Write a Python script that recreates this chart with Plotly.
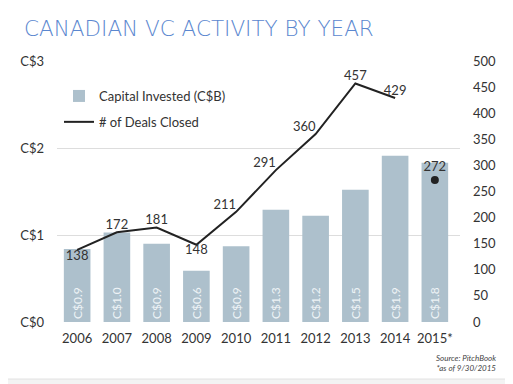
import plotly.graph_objects as go

years = ["2006", "2007", "2008", "2009", "2010", "2011", "2012", "2013", "2014", "2015*"]
capital = [0.84, 1.03, 0.90, 0.59, 0.87, 1.29, 1.22, 1.52, 1.91, 1.83]
capital_labels = ["C$0.9", "C$1.0", "C$0.9", "C$0.6", "C$0.9", "C$1.3", "C$1.2", "C$1.5", "C$1.9", "C$1.8"]
deals_years = ["2006", "2007", "2008", "2009", "2010", "2011", "2012", "2013", "2014"]
deals = [138, 172, 181, 148, 211, 291, 360, 457, 429]
deals_pos = ["bottom center", "top center", "top center", "bottom center", "top left",
             "top left", "top left", "top center", "top center"]
partial_year = ["2015*"]
partial_deals = [272]
left_ticks = [0, 1, 2, 3]
left_ticktext = ["C$0", "C$1", "C$2", "C$3"]
right_ticks = [0, 50, 100, 150, 200, 250, 300, 350, 400, 450, 500]

FONT = "Lato"
TXT = "#333333"

fig = go.Figure()
fig.add_trace(go.Bar(
    x=years, y=capital, name="Capital Invested (C$B)", legendgroup="a",
    marker=dict(color="#adc0cc", line=dict(width=0)),
    text=capital_labels, textposition="inside", insidetextanchor="start",
    textangle=-90, textfont=dict(color="#eef3f6", size=12, family=FONT),
    cliponaxis=False, yaxis="y",
))
fig.add_trace(go.Scatter(
    x=deals_years, y=deals, name="# of Deals Closed", mode="lines+text", legendgroup="b",
    line=dict(color="#222222", width=2),
    text=[str(v) for v in deals], textposition=deals_pos,
    textfont=dict(color=TXT, size=13, family=FONT),
    yaxis="y2", cliponaxis=False,
))
fig.add_trace(go.Scatter(
    x=partial_year, y=partial_deals, mode="markers+text", showlegend=False,
    marker=dict(color="#222222", size=8),
    text=[str(v) for v in partial_deals], textposition="top center",
    textfont=dict(color=TXT, size=13, family=FONT),
    yaxis="y2", cliponaxis=False,
))

# page body has an 8px margin: work in reference coordinates, shift by 8
OFF = 8
W, H = 513 - OFF, 384 - OFF
PL, PR, PT, PB = 55, 460, 61, 322          # plot box in reference coordinates
L, R, T, B = PL - OFF, W - (PR - OFF), PT - OFF, H - (PB - OFF)
pw, ph = PR - PL, PB - PT

def px(x):
    return (x - PL) / pw

def py(y):
    return (PB - y) / ph

OUT = "#f3f3f3"
fig.update_layout(
    width=W, height=H,
    margin=dict(l=L, r=R, t=T, b=B, pad=0),
    paper_bgcolor="white", plot_bgcolor="rgba(0,0,0,0)",
    bargap=0.33,
    font=dict(family=FONT, color=TXT, size=13),
    xaxis=dict(type="category", tickfont=dict(size=13, color=TXT), showgrid=False,
               showline=False, ticks="", ticklabelstandoff=7),
    yaxis=dict(range=[0, 3], tickvals=left_ticks, ticktext=left_ticktext,
               showgrid=True, gridcolor="#dddddd", gridwidth=1, zeroline=False,
               showline=False, ticks="", tickfont=dict(size=13, color=TXT),
               ticklabelstandoff=12),
    yaxis2=dict(range=[0, 500], tickvals=right_ticks, overlaying="y", side="right",
                showgrid=False, zeroline=False, showline=False, ticks="",
                tickfont=dict(size=13, color=TXT), ticklabelstandoff=12),
    legend=dict(x=px(57), y=py(81), xanchor="left", yanchor="top",
                bgcolor="rgba(0,0,0,0)", font=dict(size=13, color=TXT),
                tracegroupgap=6, itemwidth=30),
    showlegend=True,
    shapes=[dict(type="rect", xref="paper", yref="paper", layer="above",
                 x0=px(510), x1=px(520), y0=py(0), y1=py(400),
                 fillcolor=OUT, line=dict(width=0)),
            dict(type="rect", xref="paper", yref="paper", layer="above",
                 x0=px(0), x1=px(520), y0=py(379), y1=py(400),
                 fillcolor=OUT, line=dict(width=0)),
            dict(type="line", xref="paper", yref="paper", layer="above",
                 x0=px(510), x1=px(510), y0=py(0), y1=py(379),
                 line=dict(color="#e2e2e2", width=1)),
            dict(type="line", xref="paper", yref="paper", layer="above",
                 x0=px(0), x1=px(510), y0=py(379), y1=py(379),
                 line=dict(color="#e2e2e2", width=1))],
    annotations=[
        dict(text="CANADIAN VC ACTIVITY BY YEAR", xref="paper", yref="paper",
             x=px(20), y=py(28), xanchor="left", yanchor="middle", showarrow=False,
             font=dict(family="DejaVu Sans", size=21.5, color="#5b87cf", weight=200)),
        dict(text="<i>Source: PitchBook<br>*as of 9/30/2015</i>", xref="paper", yref="paper",
             x=px(498), y=py(351), xanchor="right", yanchor="top", showarrow=False,
             align="right", font=dict(family=FONT, size=8, color="#444444")),
    ],
)

fig.write_html("out.html")
